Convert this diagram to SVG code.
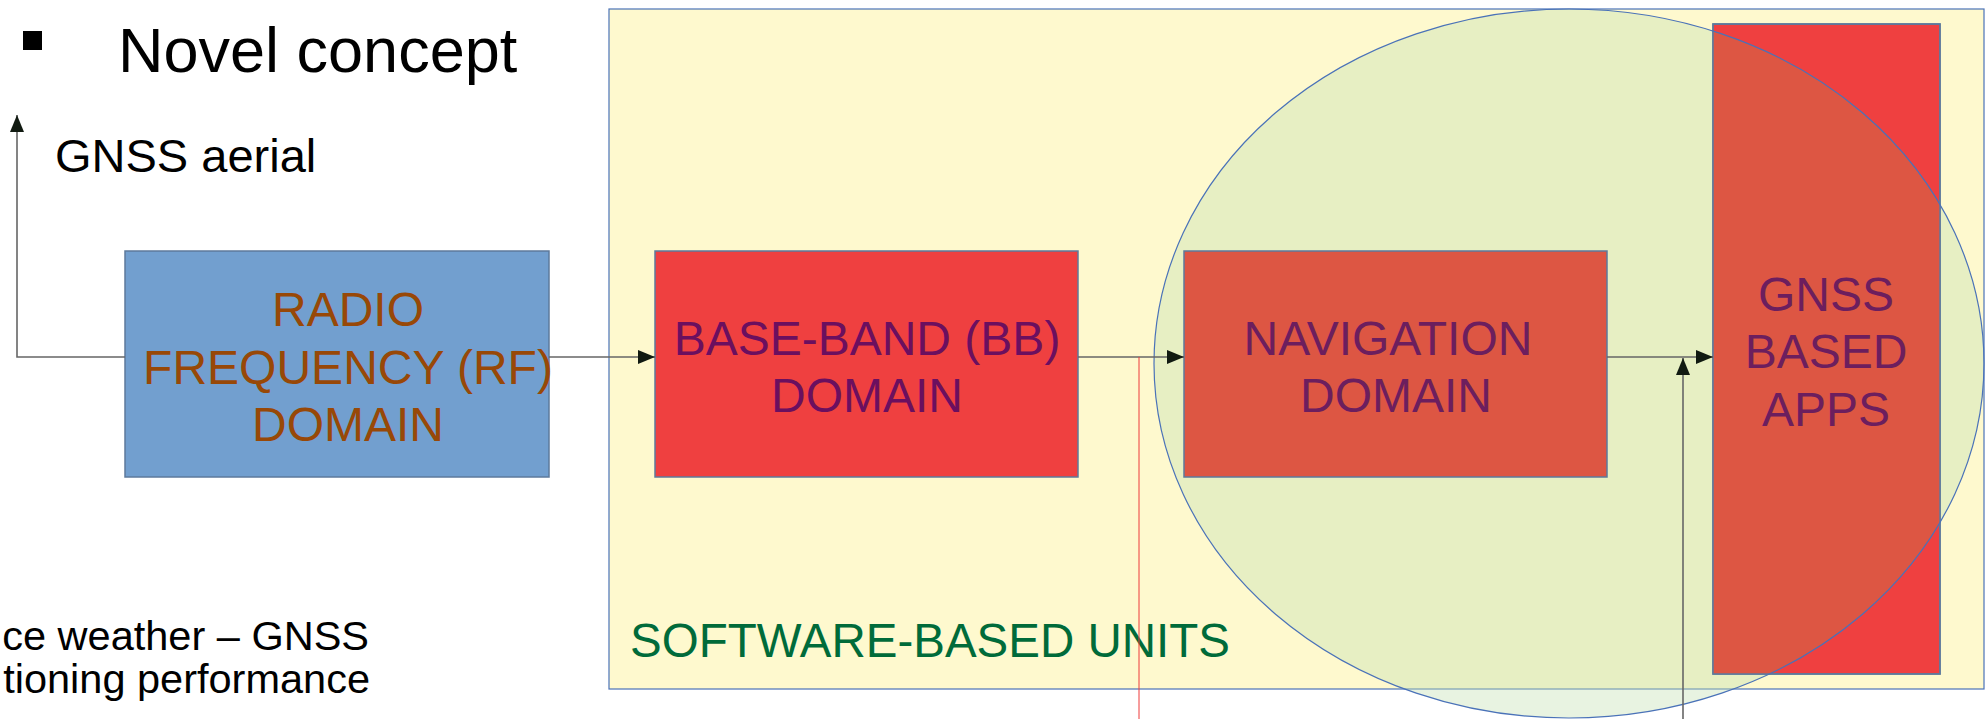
<svg xmlns="http://www.w3.org/2000/svg" width="1985" height="719" viewBox="0 0 1985 719">
  <style>
    .t { font-family: "Liberation Sans", Arial, sans-serif; }
    .box { stroke: #5d7a9c; stroke-width: 1.5; }
    .lbl { font-family: "Liberation Sans", Arial, sans-serif; font-size: 48px; text-anchor: middle; }
    .conn { stroke: #666; stroke-width: 1.6; fill: none; }
  </style>
  <defs>
    <marker id="ah" viewBox="0 0 17 14" markerUnits="userSpaceOnUse" markerWidth="17" markerHeight="14" refX="17" refY="7" orient="auto">
      <path d="M0,0 L17,7 L0,14 Z" fill="#111a11"/>
    </marker>
    <clipPath id="ellClip">
      <ellipse cx="1569" cy="363.5" rx="415" ry="354.5"/>
    </clipPath>
  </defs>

  <rect width="1985" height="719" fill="#ffffff"/>

  <g id="title">
    <rect x="23" y="31" width="19" height="19" fill="#000"/>
    <text class="t" x="118" y="72" font-size="63" fill="#000">Novel concept</text>
  </g>

  <g id="aerial-label">
    <text class="t" x="55" y="172" font-size="47" fill="#000">GNSS aerial</text>
  </g>

  <g id="bottom-text">
    <text class="t" x="369" y="650" font-size="41.5" fill="#000" text-anchor="end">ce weather – GNSS</text>
    <text class="t" x="370" y="693" font-size="41.5" fill="#000" text-anchor="end">tioning performance</text>
  </g>

  <g id="software-units">
    <rect x="609" y="9" width="1375" height="680" fill="#fef9ce" stroke="#4a72b8" stroke-width="1.2"/>
    <text class="t" x="630" y="657" font-size="47.5" fill="#006b3a">SOFTWARE-BASED UNITS</text>
  </g>

  <g id="ellipse-fill">
    <ellipse cx="1569" cy="363.5" rx="415" ry="354.5" fill="#c5e0b4" fill-opacity="0.4"/>
  </g>

  <g id="rf">
    <rect class="box" x="125" y="251" width="424" height="226" fill="#729fcf" stroke="#3f67a6"/>
    <text class="lbl" fill="#984807"><tspan x="348" y="326">RADIO</tspan><tspan x="348" y="384">FREQUENCY (RF)</tspan><tspan x="348" y="441">DOMAIN</tspan></text>
  </g>

  <g id="bb">
    <rect class="box" x="655" y="251" width="423" height="226" fill="#ef4040"/>
    <text class="lbl" fill="#6b0f5f"><tspan x="867" y="355">BASE-BAND (BB)</tspan><tspan x="867" y="412">DOMAIN</tspan></text>
  </g>

  <g id="nav">
    <rect class="box" x="1184" y="251" width="423" height="226" fill="#dd5643"/>
    <text class="lbl" fill="#6c1e5e"><tspan x="1388" y="355">NAVIGATION</tspan><tspan x="1396" y="412">DOMAIN</tspan></text>
  </g>

  <g id="apps">
    <rect class="box" x="1713" y="24" width="227" height="650" fill="#ef4040"/>
    <rect x="1713" y="24" width="227" height="650" fill="#dd5643" clip-path="url(#ellClip)"/>
    <rect x="1713" y="24" width="227" height="650" fill="none" stroke="#5d7a9c" stroke-width="1.5"/>
    <text class="lbl" fill="#6c1e5e"><tspan x="1826" y="311">GNSS</tspan><tspan x="1826" y="368">BASED</tspan><tspan x="1826" y="426">APPS</tspan></text>
  </g>

  <g id="ellipse-outline">
    <ellipse cx="1569" cy="363.5" rx="415" ry="354.5" fill="none" stroke="#4a72b8" stroke-width="1.2"/>
  </g>

  <g id="connectors">
    <polyline class="conn" points="125,357 17,357 17,115" marker-end="url(#ah)"/>
    <line class="conn" x1="549" y1="357" x2="655" y2="357" marker-end="url(#ah)"/>
    <line class="conn" x1="1078" y1="357" x2="1184" y2="357" marker-end="url(#ah)"/>
    <line class="conn" x1="1607" y1="357" x2="1713" y2="357" marker-end="url(#ah)"/>
    <line x1="1139" y1="357" x2="1139" y2="719" stroke="#ee3a3a" stroke-width="1"/>
    <line class="conn" x1="1683" y1="719" x2="1683" y2="358" marker-end="url(#ah)"/>
  </g>
</svg>
